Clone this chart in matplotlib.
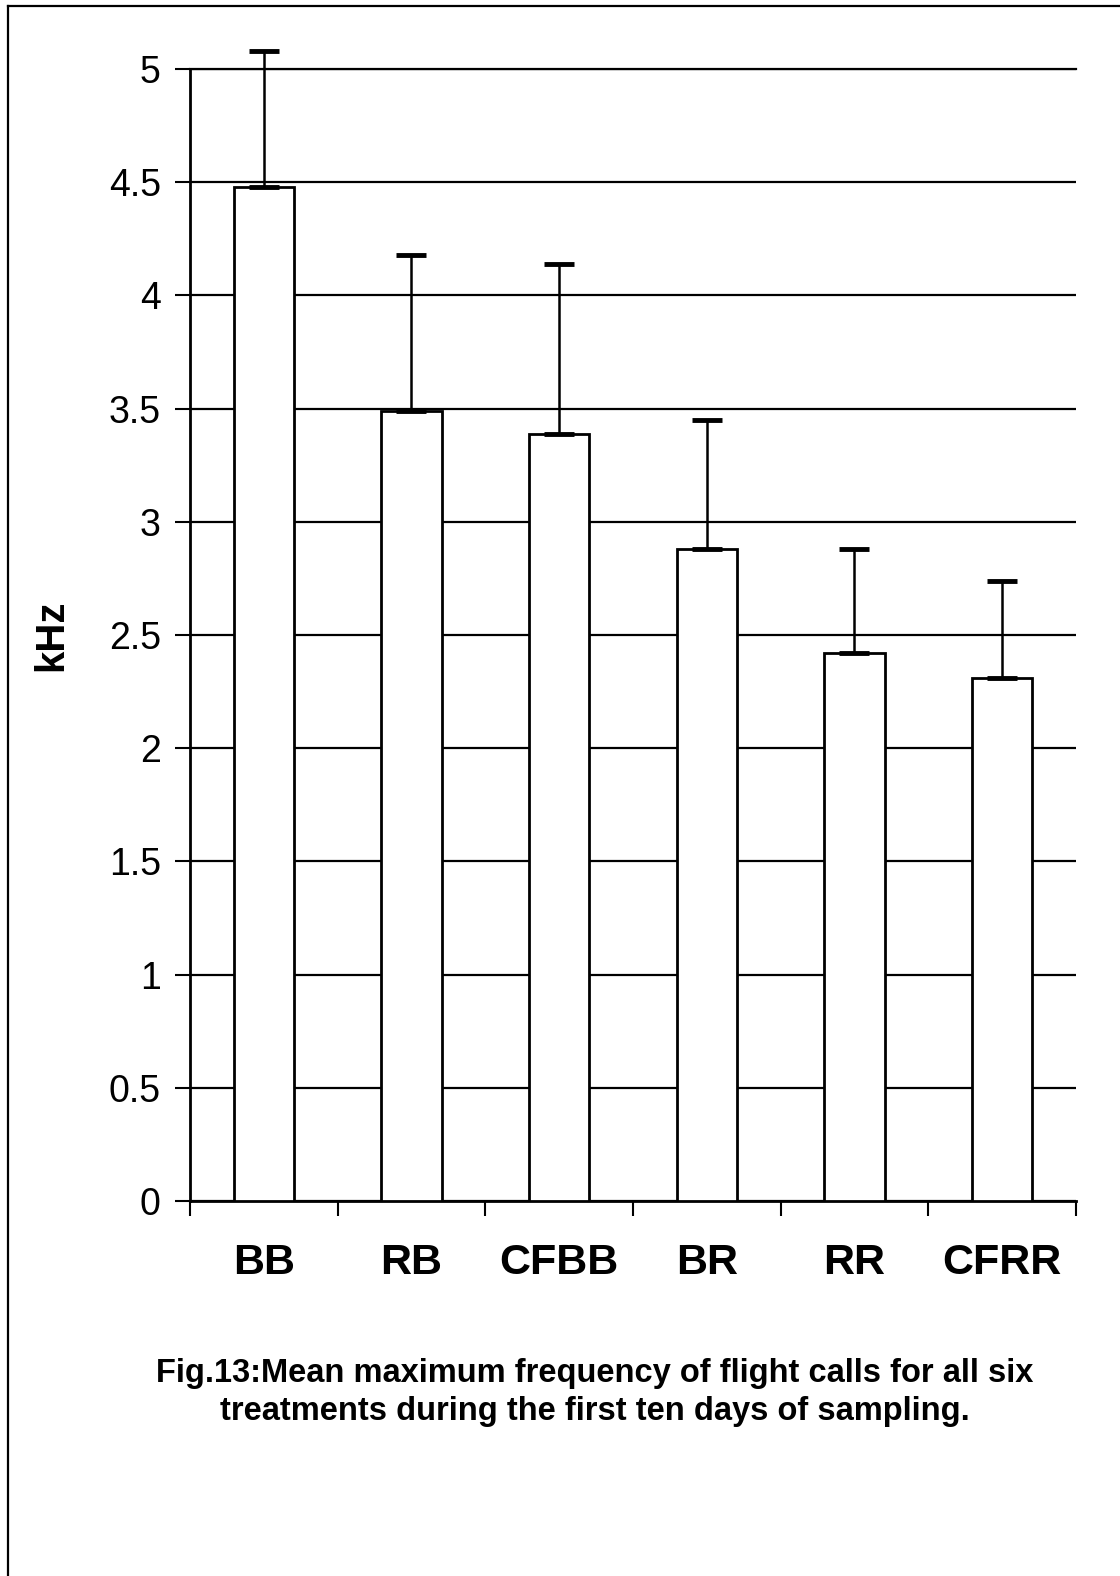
import numpy as np
import matplotlib
matplotlib.use("Agg")
import matplotlib.pyplot as plt
from matplotlib.lines import Line2D

# mean maximum frequency (kHz) and upper error per treatment
treatments = ["BB", "RB", "CFBB", "BR", "RR", "CFRR"]
mean_khz = [4.48, 3.49, 3.39, 2.88, 2.42, 2.31]
err_khz = [0.60, 0.69, 0.75, 0.57, 0.46, 0.43]
y_ticks = [0, 0.5, 1, 1.5, 2, 2.5, 3, 3.5, 4, 4.5, 5]
caption = ("Fig.13:Mean maximum frequency of flight calls for all six\n"
           "treatments during the first ten days of sampling.")

plt.rcParams['font.family'] = ['Liberation Sans', 'DejaVu Sans']

fig = plt.figure(figsize=(11.2, 15.76), dpi=100)
ax = fig.add_axes([0.1696, 0.2379, 0.7911, 0.7183])

x = np.arange(len(treatments))
ax.bar(x, mean_khz, width=0.41, color='white', edgecolor='black',
       linewidth=2.0, zorder=3)
eb = ax.errorbar(x, mean_khz, yerr=[np.zeros(len(err_khz)), err_khz],
                 fmt='none', ecolor='black', elinewidth=1.8, capsize=11,
                 capthick=3.5, zorder=4)
# BB error bar runs past the top of the axis
for part in eb.lines[1] + eb.lines[2]:
    part.set_clip_on(False)

ax.set_xlim(-0.5, len(treatments) - 0.5)
ax.set_ylim(0, 5)
ax.set_yticks(y_ticks)
ax.set_yticklabels([('%g' % v) for v in y_ticks], fontsize=27)
ax.yaxis.grid(True, color='black', linewidth=1.6, zorder=1)

# boundaries get the tick marks, centres get the labels
ax.set_xticks(np.arange(len(treatments) + 1) - 0.5)
ax.set_xticklabels([])
ax.set_xticks(x, minor=True)
ax.set_xticklabels(treatments, minor=True, fontsize=31, fontweight='bold')
ax.tick_params(axis='x', which='minor', length=0, pad=30)
ax.tick_params(axis='x', which='major', length=11, width=1.5, direction='out')
ax.tick_params(axis='y', length=11, width=1.5, pad=10)

for side in ['top', 'right']:
    ax.spines[side].set_visible(False)
for side in ['left', 'bottom']:
    ax.spines[side].set_linewidth(2.0)
# top gridline doubles as upper border
ax.axhline(5, color='black', linewidth=1.6, zorder=1, clip_on=False)

ax.set_ylabel('kHz', fontsize=29, fontweight='bold')
ax.yaxis.set_label_coords(-0.135, 0.5)

fig.text(0.531, 0.1165, caption, ha='center', va='center', fontsize=23.5,
         fontweight='bold', linespacing=1.32,
         family=['Liberation Sans Narrow', 'Liberation Sans', 'DejaVu Sans'])

# page frame lines on the left and top
fig.add_artist(Line2D([0.0071, 0.0071], [0.0, 0.9962], color='black',
                      linewidth=1.6, transform=fig.transFigure))
fig.add_artist(Line2D([0.0071, 1.0], [0.9962, 0.9962], color='black',
                      linewidth=1.6, transform=fig.transFigure))

fig.savefig('out.png', dpi=100, facecolor='white')
